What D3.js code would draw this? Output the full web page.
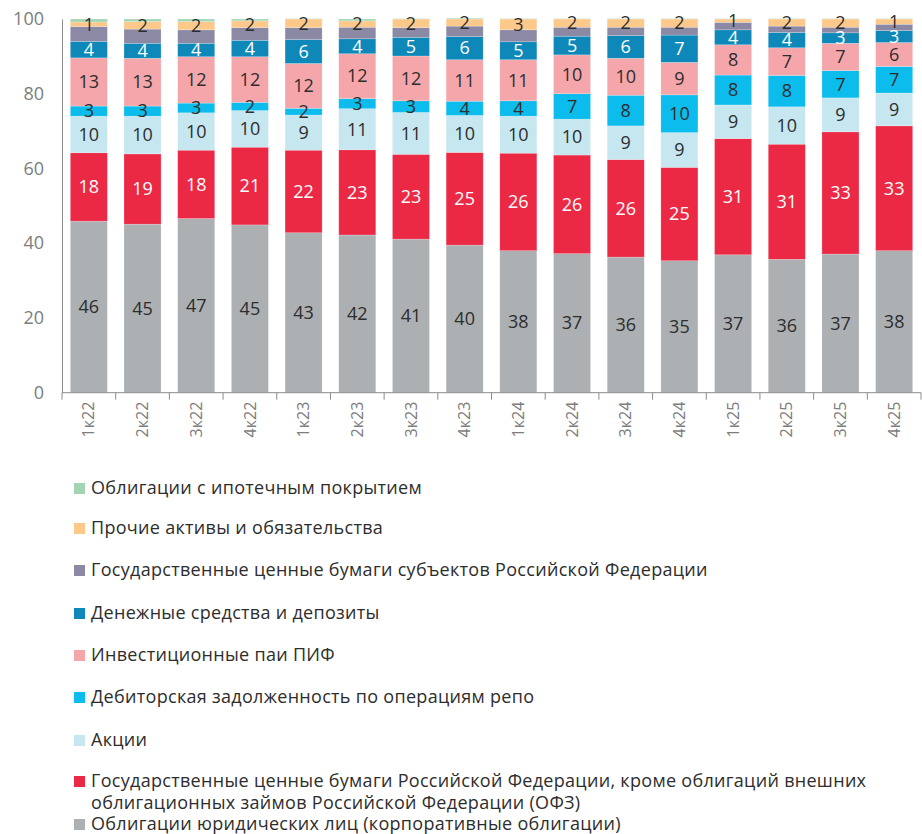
<!DOCTYPE html>
<html>
<head>
<meta charset="utf-8">
<script src="https://cdn.jsdelivr.net/npm/d3@7"></script>
<style>
  body { margin: 0; background: #fff; }
  svg { display: block; font-family: "Open Sans", sans-serif; }
</style>
</head>
<body>
<div id="chart-container"></div>
<script>
// quarters
const quarters = ["1к22", "2к22", "3к22", "4к22", "1к23", "2к23", "3к23", "4к23",
  "1к24", "2к24", "3к24", "4к24", "1к25", "2к25", "3к25", "4к25"];

// series values, % (bottom to top)
const corporate = [45.9, 45.1, 46.6, 44.9, 42.8, 42.2, 41.1, 39.5, 38.0, 37.2, 36.3, 35.3, 36.9, 35.7, 37.1, 38.0];
const ofz = [18.3, 18.8, 18.3, 20.8, 22.1, 22.8, 22.7, 24.8, 26.1, 26.4, 26.1, 25.0, 31.1, 30.8, 32.7, 33.4];
const shares = [9.8, 10.1, 10.0, 9.8, 9.4, 11.0, 11.2, 9.9, 9.9, 9.6, 9.0, 9.3, 9.0, 10.0, 9.1, 8.8];
const repo = [2.7, 2.7, 2.6, 2.2, 1.8, 2.7, 3.1, 3.8, 4.1, 6.8, 8.2, 10.1, 8.0, 8.4, 7.3, 7.1];
const pif = [12.9, 12.8, 12.4, 12.2, 12.0, 12.0, 12.0, 11.1, 11.0, 10.4, 9.9, 8.7, 8.1, 7.4, 7.3, 6.4];
const cash = [4.4, 4.0, 3.6, 4.4, 6.4, 4.0, 5.0, 6.2, 4.8, 5.0, 6.1, 7.3, 4.0, 4.1, 2.8, 3.2];
const regional = [4.0, 3.8, 3.6, 3.4, 3.2, 3.1, 2.6, 2.8, 3.2, 2.4, 2.2, 2.1, 2.0, 1.7, 1.5, 1.7];
const other = [1.2, 2.0, 2.2, 1.8, 2.3, 1.7, 2.3, 1.9, 2.9, 2.2, 2.2, 2.2, 0.9, 1.9, 2.2, 1.4];
const mortgage = [0.8, 0.7, 0.7, 0.5, 0.1, 0.5, 0.1, 0.2, 0.1, 0.1, 0.1, 0.1, 0.1, 0.1, 0.1, 0.1];

const yTicks = [0, 20, 40, 60, 80, 100];

const series = [
  { key: "corporate", name: "Облигации юридических лиц (корпоративные облигации)", values: corporate, fill: "#acb0b3", text: "#2d2d2d", label: true },
  { key: "ofz", name: "Государственные ценные бумаги Российской Федерации, кроме облигаций внешних облигационных займов Российской Федерации (ОФЗ)", values: ofz, fill: "#ec2945", text: "#ffffff", label: true },
  { key: "shares", name: "Акции", values: shares, fill: "#c6e7f0", text: "#2d2d2d", label: true },
  { key: "repo", name: "Дебиторская задолженность по операциям репо", values: repo, fill: "#0bbcec", text: "#2d2d2d", label: true },
  { key: "pif", name: "Инвестиционные паи ПИФ", values: pif, fill: "#f5a6ab", text: "#2d2d2d", label: true },
  { key: "cash", name: "Денежные средства и депозиты", values: cash, fill: "#0e88b9", text: "#ffffff", label: true },
  { key: "regional", name: "Государственные ценные бумаги субъектов Российской Федерации", values: regional, fill: "#8b89a4", text: "#2d2d2d", label: false },
  { key: "other", name: "Прочие активы и обязательства", values: other, fill: "#fcc98b", text: "#2d2d2d", label: true },
  { key: "mortgage", name: "Облигации с ипотечным покрытием", values: mortgage, fill: "#a3d4b4", text: "#2d2d2d", label: false }
];

const table = quarters.map((q, i) => {
  const row = { q };
  series.forEach(s => row[s.key] = s.values[i]);
  return row;
});

const totalWidth = 922;
const totalHeight = 834;
const margin = { top: 19, left: 62, right: 1 };
const plotBottom = 392.7;

const svg = d3.select("#chart-container")
  .append("svg")
  .attr("width", totalWidth)
  .attr("height", totalHeight);

const xScale = d3.scaleBand()
  .domain(quarters)
  .range([margin.left, totalWidth - margin.right])
  .paddingInner(0.31)
  .paddingOuter(0.155);

const yScale = d3.scaleLinear()
  .domain([0, 100])
  .range([plotBottom, margin.top]);

const stack = d3.stack().keys(series.map(s => s.key));
const layers = stack(table);

// bars
const layerG = svg.append("g")
  .selectAll("g")
  .data(layers)
  .join("g")
  .attr("fill", (d, i) => series[i].fill);

layerG.selectAll("rect")
  .data(d => d)
  .join("rect")
  .attr("x", d => xScale(d.data.q))
  .attr("y", d => yScale(d[1]))
  .attr("width", xScale.bandwidth())
  .attr("height", d => yScale(d[0]) - yScale(d[1]))
  .attr("stroke", "#ffffff")
  .attr("stroke-opacity", 0.35)
  .attr("stroke-width", 0.6);

// value labels
layers.forEach((layer, i) => {
  const s = series[i];
  if (!s.label) return;
  svg.append("g")
    .selectAll("text")
    .data(layer)
    .join("text")
    .attr("x", d => xScale(d.data.q) + xScale.bandwidth() / 2)
    .attr("y", d => yScale((d[0] + d[1]) / 2))
    .attr("dy", "0.35em")
    .attr("text-anchor", "middle")
    .attr("font-size", 18)
    .attr("fill", s.text)
    .text(d => Math.round(d[1] - d[0]));
});

// y axis
const yAxis = d3.axisLeft(yScale)
  .tickValues(yTicks)
  .tickSize(0)
  .tickPadding(18);
const yAxisGroup = svg.append("g")
  .attr("transform", `translate(${margin.left}, 0)`)
  .call(yAxis);
yAxisGroup.select(".domain").attr("stroke", "#8c8c8c");
yAxisGroup.selectAll("text")
  .attr("font-size", 18)
  .attr("font-family", "Open Sans")
  .attr("fill", "#7d7d7d");

// x axis
const xAxisGroup = svg.append("g")
  .attr("transform", `translate(0, ${plotBottom})`);
xAxisGroup.append("line")
  .attr("x1", margin.left)
  .attr("x2", totalWidth - margin.right)
  .attr("stroke", "#8c8c8c");
xAxisGroup.selectAll(".tick-mark")
  .data(d3.range(quarters.length + 1))
  .join("line")
  .attr("class", "tick-mark")
  .attr("x1", i => margin.left + i * xScale.step())
  .attr("x2", i => margin.left + i * xScale.step())
  .attr("y1", 0)
  .attr("y2", 7)
  .attr("stroke", "#8c8c8c");
xAxisGroup.selectAll(".tick-label")
  .data(quarters)
  .join("text")
  .attr("class", "tick-label")
  .attr("transform", d => `translate(${xScale(d) + xScale.bandwidth() / 2}, 9) rotate(-90)`)
  .attr("text-anchor", "end")
  .attr("dy", "0.35em")
  .attr("font-size", 16)
  .attr("fill", "#7d7d7d")
  .text(d => d);

// legend (top to bottom = reverse stack order)
const legendItems = series.slice().reverse();
const legendY = [488, 528, 570, 613, 655, 697, 740, 781, 824];
const legend = svg.append("g").attr("id", "legend");
legendItems.forEach((s, i) => {
  const y = legendY[i];
  legend.append("rect")
    .attr("x", 74)
    .attr("y", y - 5)
    .attr("width", 11)
    .attr("height", 11)
    .attr("fill", s.fill);
  const t = legend.append("text")
    .attr("x", 91)
    .attr("y", y)
    .attr("dy", "0.35em")
    .attr("font-size", 18)
    .attr("letter-spacing", 0.3)
    .attr("fill", "#2d2d2d");
  if (s.key === "ofz") {
    t.append("tspan").attr("x", 91)
      .text("Государственные ценные бумаги Российской Федерации, кроме облигаций внешних");
    t.append("tspan").attr("x", 91).attr("dy", 22)
      .text("облигационных займов Российской Федерации (ОФЗ)");
  } else {
    t.text(s.name);
  }
});
</script>
</body>
</html>
